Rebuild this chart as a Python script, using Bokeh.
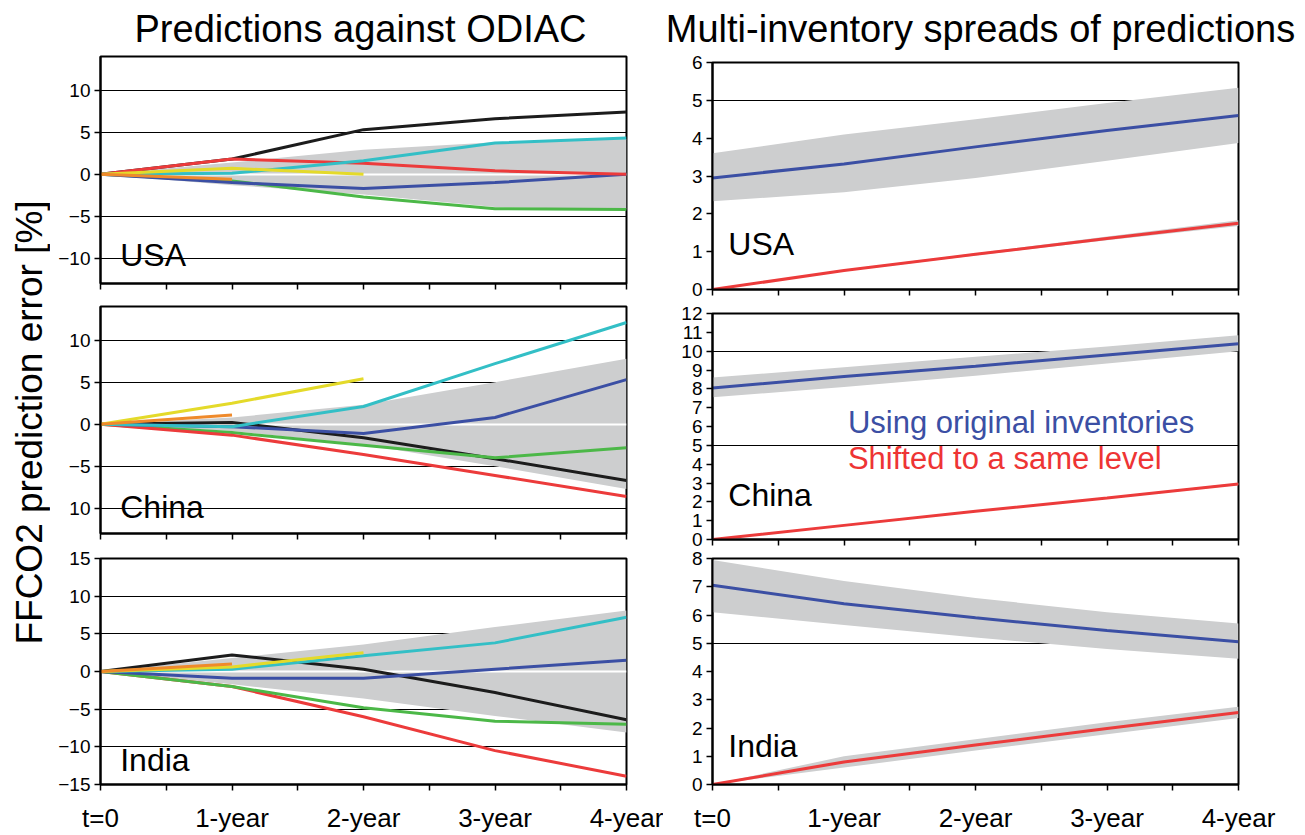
import math

from bokeh.plotting import figure
from bokeh.layouts import row, column
from bokeh.models import Range1d, FixedTicker, Label
from bokeh.embed import file_html
from bokeh.resources import INLINE

# ---------------------------------------------------------------- data
horizons = ["t=0", "1-year", "2-year", "3-year", "4-year"]
x_pos = list(range(len(horizons)))

# Predictions against ODIAC (% error) for each inventory
usa_black = [0, 1.8, 5.3, 6.6, 7.4]
usa_cyan = [0, 0.1, 1.6, 3.7, 4.3]
usa_red = [0, 1.8, 1.3, 0.4, 0.0]
usa_blue = [0, -1.0, -1.7, -1.0, 0.0]
usa_green = [0, -0.8, -2.7, -4.1, -4.2]
usa_yellow = [0, 0.7, 0.0]
usa_orange = [0, -0.6]
usa_band_hi = [0, 1.4, 2.9, 3.8, 4.2]
usa_band_lo = [0, -1.3, -2.4, -3.9, -4.2]

china_black = [0, 0.2, -1.6, -4.1, -6.7]
china_cyan = [0, -0.3, 2.1, 7.2, 12.1]
china_red = [0, -1.3, -3.6, -6.1, -8.6]
china_blue = [0, -0.3, -1.1, 0.8, 5.3]
china_green = [0, -1.0, -2.5, -4.0, -2.8]
china_yellow = [0, 2.5, 5.4]
china_orange = [0, 1.1]
china_band_hi = [0, 0.8, 2.3, 5.0, 7.8]
china_band_lo = [0, -0.8, -2.4, -5.0, -7.7]

india_black = [0, 2.2, 0.3, -2.8, -6.4]
india_cyan = [0, 0.3, 2.1, 3.8, 7.2]
india_red = [0, -2.0, -6.0, -10.5, -13.9]
india_blue = [0, -0.9, -0.9, 0.3, 1.5]
india_green = [0, -2.0, -4.8, -6.6, -7.0]
india_yellow = [0, 0.6, 2.5]
india_orange = [0, 1.0]
india_band_hi = [0, 1.8, 3.6, 5.9, 8.1]
india_band_lo = [0, -1.7, -3.6, -5.9, -8.1]

# Multi-inventory spreads (%): original inventories vs shifted to a same level
usa_orig = [2.95, 3.32, 3.77, 4.2, 4.6]
usa_orig_hi = [3.6, 4.1, 4.5, 4.93, 5.33]
usa_orig_lo = [2.33, 2.57, 2.95, 3.4, 3.87]
usa_shift = [0, 0.5, 0.93, 1.35, 1.75]
usa_shift_hi = [0, 0.52, 0.96, 1.4, 1.83]
usa_shift_lo = [0, 0.48, 0.9, 1.3, 1.68]

china_orig = [8.05, 8.65, 9.2, 9.8, 10.4]
china_orig_hi = [8.6, 9.15, 9.7, 10.25, 10.85]
china_orig_lo = [7.55, 8.1, 8.7, 9.35, 10.0]
china_shift = [0, 0.75, 1.5, 2.2, 2.95]
china_shift_hi = [0, 0.78, 1.54, 2.24, 3.0]
china_shift_lo = [0, 0.72, 1.46, 2.16, 2.9]

india_orig = [7.05, 6.4, 5.9, 5.45, 5.05]
india_orig_hi = [7.95, 7.2, 6.6, 6.1, 5.7]
india_orig_lo = [6.1, 5.65, 5.2, 4.8, 4.45]
india_shift = [0, 0.8, 1.4, 1.98, 2.55]
india_shift_hi = [0, 1.0, 1.6, 2.2, 2.75]
india_shift_lo = [0, 0.6, 1.2, 1.78, 2.35]

# y axes
left_ticks = [-10, -5, 0, 5, 10]
usa_left_labels = ["\u221210", "\u22125", "0", "5", "10"]
china_left_labels = ["10", "\u22125", "0", "5", "10"]
india_left_ticks = [-15, -10, -5, 0, 5, 10, 15]
india_left_labels = ["\u221215", "\u221210", "\u22125", "0", "5", "10", "15"]
usa_right_ticks = list(range(0, 7))
china_right_ticks = list(range(0, 13))
india_right_ticks = list(range(0, 9))

# ---------------------------------------------------------------- style
FONT = "Liberation Sans"
BAND = "#cdcecf"
C_BLACK = "#1c1c1c"
C_CYAN = "#33bfc6"
C_RED = "#ec3b3b"
C_BLUE = "#3b4fa4"
C_GREEN = "#4cb848"
C_YELLOW = "#e4da2a"
C_ORANGE = "#ef8a2b"

PAGE_W, PAGE_H = 1305, 835
HEAD_H = 50
STRIP_W = 50
LEFT_W, RIGHT_W = 613, 642
FRAME_W = 526


def text_strip(width, height):
    """Blank canvas in pixel units, used for headings and the shared y label."""
    s = figure(width=width, height=height, x_range=Range1d(0, width),
               y_range=Range1d(0, height), output_backend="svg",
               toolbar_location=None, x_axis_location=None, y_axis_location=None,
               min_border=0)
    s.grid.visible = False
    s.outline_line_color = None
    return s


def make_panel(width, b_left, top, frame_h, bottom, y_lo, y_hi, ticks, labels,
               x_labels=False):
    p = figure(width=width, height=top + frame_h + bottom,
               x_range=Range1d(0, 4), y_range=Range1d(y_lo, y_hi),
               output_backend="svg", toolbar_location=None,
               min_border_left=b_left, min_border_right=width - b_left - FRAME_W,
               min_border_top=top, min_border_bottom=bottom)
    p.grid.visible = False
    p.outline_line_color = "black"
    p.outline_line_width = 2
    p.border_fill_color = "white"
    p.background_fill_color = "white"

    xa = p.xaxis[0]
    mids = [(a + b) / 2 for a, b in zip(x_pos, x_pos[1:])]
    if x_labels:
        xa.ticker = FixedTicker(ticks=x_pos, minor_ticks=mids)
        xa.major_label_overrides = {i: h for i, h in zip(x_pos, horizons)}
        xa.major_label_text_font = FONT
        xa.major_label_text_font_size = "26px"
        xa.major_label_text_color = "black"
        xa.major_label_standoff = 12
    else:
        # tick marks only: every position drawn as a minor tick
        xa.ticker = FixedTicker(ticks=[], minor_ticks=sorted(x_pos + mids))
    xa.axis_line_width = 2
    xa.major_tick_out = 6
    xa.major_tick_in = 0
    xa.minor_tick_out = 6
    xa.minor_tick_in = 0
    xa.major_tick_line_width = 1.5
    xa.minor_tick_line_width = 1.5
    xa.minor_tick_line_color = "black"

    ya = p.yaxis[0]
    ya.ticker = FixedTicker(ticks=ticks, minor_ticks=[])
    ya.major_label_overrides = {t: s for t, s in zip(ticks, labels)}
    ya.axis_line_width = 2
    ya.major_tick_out = 6
    ya.major_tick_in = 0
    ya.major_tick_line_width = 1.5
    ya.major_label_text_font = FONT
    ya.major_label_text_font_size = "19px"
    ya.major_label_text_color = "black"
    ya.major_label_standoff = 4
    return p


def add_label(p, x, y, text, color="black", size="32px", align="left",
              baseline="alphabetic"):
    p.add_layout(Label(x=x, y=y, text=text, text_font=FONT, text_font_size=size,
                       text_color=color, text_baseline=baseline,
                       text_align=align))


def odiac_panel(p, grid, hi, lo, series):
    p.hspan(y=grid, line_color="black", line_width=1)
    p.varea(x=x_pos, y1=lo, y2=hi, fill_color=BAND)
    p.hspan(y=[0], line_color="white", line_width=2)
    for vals, col in series:
        p.line(x_pos[:len(vals)], vals, line_color=col, line_width=3)


def spread_panel(p, grid, orig, orig_hi, orig_lo, shift, shift_hi, shift_lo):
    p.hspan(y=grid, line_color="black", line_width=1.2)
    p.varea(x=x_pos, y1=orig_lo, y2=orig_hi, fill_color=BAND)
    p.varea(x=x_pos, y1=shift_lo, y2=shift_hi, fill_color=BAND)
    p.line(x_pos, orig, line_color=C_BLUE, line_width=3)
    p.line(x_pos, shift, line_color=C_RED, line_width=3)


# ---------------------------------------------------------------- column headings
head = text_strip(PAGE_W, HEAD_H)
add_label(head, 360, 22, "Predictions against ODIAC", size="38px", align="center",
          baseline="middle")
add_label(head, 980, 22, "Multi-inventory spreads of predictions", size="38px",
          align="center", baseline="middle")

# ---------------------------------------------------------------- shared y label
body_h = PAGE_H - HEAD_H
strip = text_strip(STRIP_W, body_h)
strip.add_layout(Label(x=29, y=413, text="FFCO2 prediction error [%]", angle=math.pi / 2,
                       text_font=FONT, text_font_size="37px", text_color="black",
                       text_align="center", text_baseline="middle"))

# ---------------------------------------------------------------- left column
l_usa = make_panel(LEFT_W, 50, 6, 227, 12, -13, 14, left_ticks, usa_left_labels)
odiac_panel(l_usa, [-10, -5, 5, 10], usa_band_hi, usa_band_lo,
            [(usa_black, C_BLACK), (usa_green, C_GREEN), (usa_blue, C_BLUE),
             (usa_red, C_RED), (usa_cyan, C_CYAN), (usa_yellow, C_YELLOW),
             (usa_orange, C_ORANGE)])
add_label(l_usa, 0.15, -9.6, "USA")

l_china = make_panel(LEFT_W, 50, 11, 227, 12, -13, 14, left_ticks, china_left_labels)
odiac_panel(l_china, [-10, -5, 5, 10], china_band_hi, china_band_lo,
            [(china_black, C_BLACK), (china_green, C_GREEN), (china_red, C_RED),
             (china_blue, C_BLUE), (china_cyan, C_CYAN), (china_yellow, C_YELLOW),
             (china_orange, C_ORANGE)])
add_label(l_china, 0.15, -9.9, "China")

l_india = make_panel(LEFT_W, 50, 13, 227, 50, -15, 15, india_left_ticks,
                     india_left_labels, x_labels=True)
odiac_panel(l_india, [-10, -5, 5, 10], india_band_hi, india_band_lo,
            [(india_black, C_BLACK), (india_red, C_RED), (india_green, C_GREEN),
             (india_blue, C_BLUE), (india_cyan, C_CYAN), (india_yellow, C_YELLOW),
             (india_orange, C_ORANGE)])
add_label(l_india, 0.15, -11.7, "India")

# ---------------------------------------------------------------- right column
r_usa = make_panel(RIGHT_W, 49, 12, 227, 11, 0, 6, usa_right_ticks,
                   [str(t) for t in usa_right_ticks])
spread_panel(r_usa, [5], usa_orig, usa_orig_hi, usa_orig_lo,
             usa_shift, usa_shift_hi, usa_shift_lo)
add_label(r_usa, 0.12, 1.21, "USA")

r_china = make_panel(RIGHT_W, 49, 13, 226, 10, 0, 12, china_right_ticks,
                     [str(t) for t in china_right_ticks])
spread_panel(r_china, [5, 10], china_orig, china_orig_hi, china_orig_lo,
             china_shift, china_shift_hi, china_shift_lo)
add_label(r_china, 0.12, 2.38, "China")
add_label(r_china, 1.03, 6.23, "Using original inventories", color=C_BLUE, size="31px")
add_label(r_china, 1.03, 4.3, "Shifted to a same level", color="#ee3434", size="31px")

r_india = make_panel(RIGHT_W, 49, 9, 227, 50, 0, 8, india_right_ticks,
                     [str(t) for t in india_right_ticks], x_labels=True)
spread_panel(r_india, [5], india_orig, india_orig_hi, india_orig_lo,
             india_shift, india_shift_hi, india_shift_lo)
add_label(r_india, 0.12, 1.35, "India")

layout = column(head,
                row(strip,
                    column(l_usa, l_china, l_india),
                    column(r_usa, r_china, r_india)))

open("out.html", "w").write(file_html(layout, INLINE))
